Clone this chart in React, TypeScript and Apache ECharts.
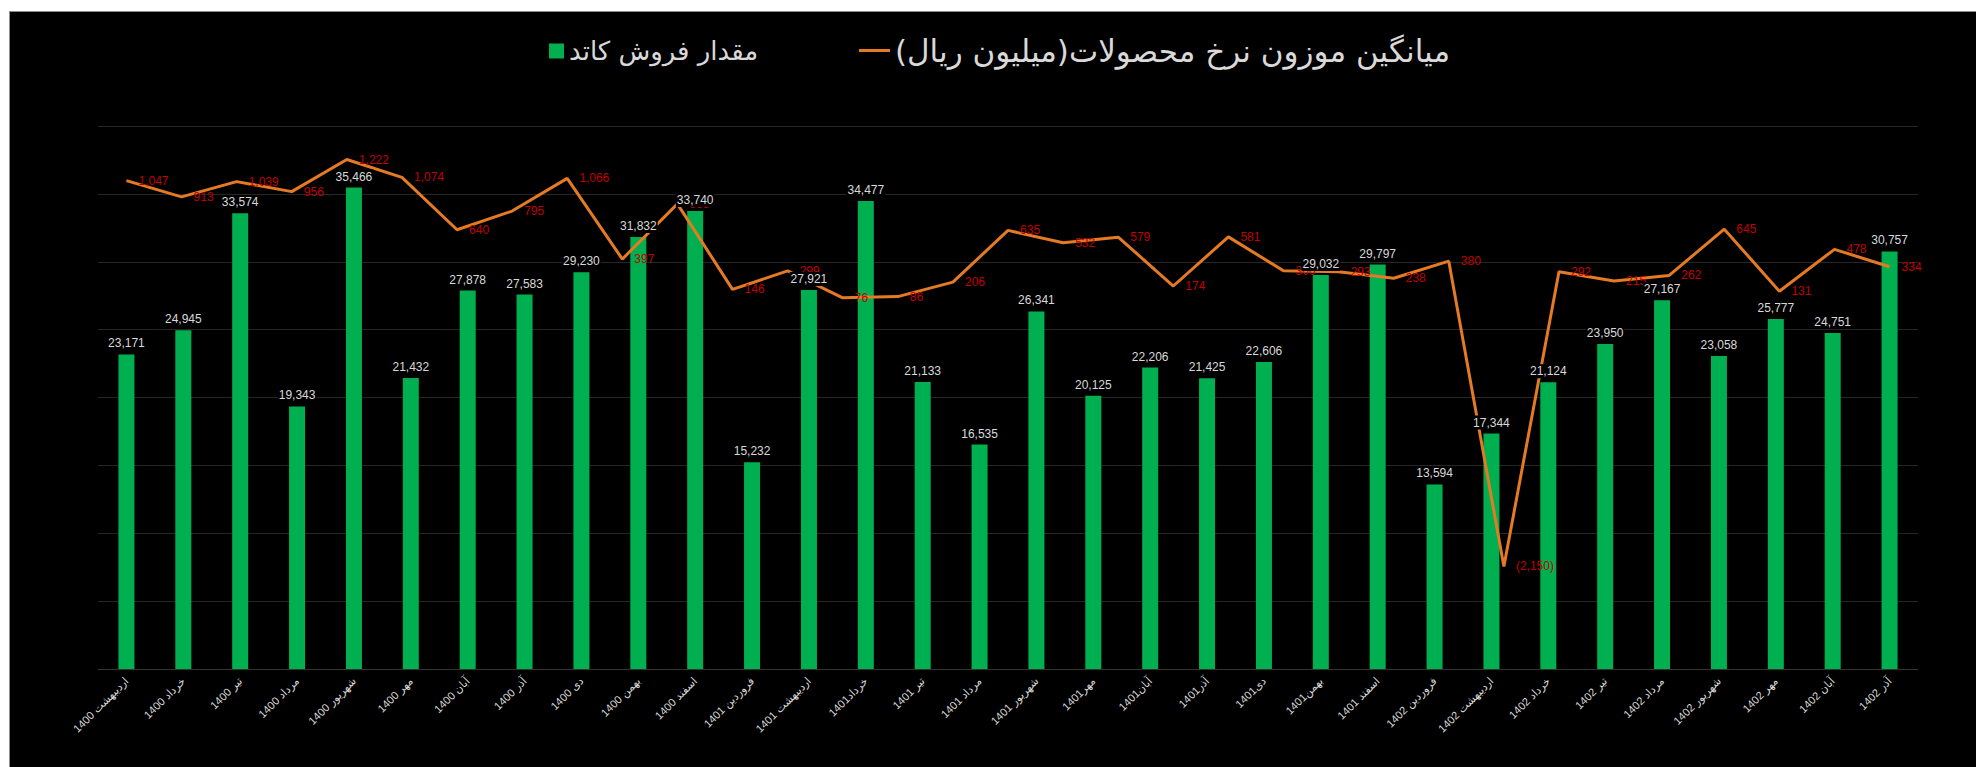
import React, { useEffect, useRef } from "react";
import * as echarts from "echarts";

const categories = [
  "اردیبهشت 1400", "خرداد 1400", "تیر 1400", "مرداد 1400", "شهریور 1400", "مهر 1400",
  "آبان 1400", "آذر 1400", "دی 1400", "بهمن 1400", "اسفند 1400", "فروردین 1401",
  "اردیبهشت 1401", "خرداد1401", "تیر 1401", "مرداد 1401", "شهریور 1401", "مهر1401",
  "آبان1401", "آذر1401", "دی1401", "بهمن1401", "اسفند 1401", "فروردین 1402",
  "اردیبهشت 1402", "خرداد 1402", "تیر 1402", "مرداد 1402", "شهریور 1402", "مهر 1402",
  "آبان 1402", "آذر 1402",
];

const salesValues = [
  23171, 24945, 33574, 19343, 35466, 21432, 27878, 27583, 29230, 31832, 33740, 15232,
  27921, 34477, 21133, 16535, 26341, 20125, 22206, 21425, 22606, 29032, 29797, 13594,
  17344, 21124, 23950, 27167, 23058, 25777, 24751, 30757,
];

const priceValues = [
  1047, 913, 1039, 956, 1222, 1074, 640, 795, 1066, 397, 855, 146, 299, 76, 86, 206,
  635, 532, 579, 174, 581, 300, 293, 238, 380, -2150, 292, 215, 262, 645, 131, 478, 334,
];

const barName = "مقدار فروش کاتد";
const lineName = "میانگین موزون نرخ محصولات(میلیون ریال)";

const fmt = (v: number) =>
  v < 0 ? "(" + Math.abs(v).toLocaleString("en-US") + ")" : v.toLocaleString("en-US");

export default function App() {
  const ref = useRef<HTMLDivElement>(null);
  useEffect(() => {
    if (!ref.current) return;
    const chart = echarts.init(ref.current, null, { renderer: "svg" });
    const n = priceValues.length - 1;
    const pad = (n / (categories.length - 1)) * 0.5;
    const orange = "#e57a24";
    const option = {
      animation: false,
      backgroundColor: "#ffffff",
      textStyle: { fontFamily: "'Liberation Sans', 'DejaVu Sans', sans-serif" },
      graphic: [
        {
          type: "rect",
          z: -100,
          silent: true,
          shape: { x: 9.5, y: 11.5, width: 1980, height: 770 },
          style: { fill: "#000000", stroke: "#8c8c8c", lineWidth: 1 },
        },
      ],
      legend: [
        {
          data: [{ name: barName, icon: "rect", itemStyle: { color: "#00b050" } }],
          left: 544,
          top: 33,
          itemWidth: 15,
          itemHeight: 15,
          itemGap: 0,
          textStyle: { color: "#d9d9d9", fontSize: 26, fontFamily: "'DejaVu Sans', sans-serif" },
        },
        {
          data: [{ name: lineName, icon: "rect", itemStyle: { color: orange } }],
          left: 854,
          top: 30,
          itemWidth: 31,
          itemHeight: 3,
          textStyle: { color: "#d9d9d9", fontSize: 31, fontFamily: "'DejaVu Sans', sans-serif" },
        },
      ],
      grid: { left: 98, right: 58, top: 126, bottom: 98, containLabel: false },
      xAxis: [
        {
          type: "category",
          data: categories,
          axisLine: { lineStyle: { color: "#333333", width: 1 } },
          axisTick: { show: false },
          axisLabel: {
            interval: 0,
            rotate: 45,
            color: "#d9d9d9",
            fontSize: 11,
            margin: 10,
          },
        },
        {
          type: "value",
          min: -pad,
          max: n + pad,
          show: false,
          splitLine: { show: false },
        },
      ],
      yAxis: [
        {
          type: "value",
          min: 0,
          max: 40000,
          interval: 5000,
          axisLabel: { show: false },
          axisLine: { show: false },
          axisTick: { show: false },
          splitLine: { lineStyle: { color: "#262626", width: 1 } },
        },
        {
          type: "value",
          min: -3000,
          max: 1500,
          show: false,
          splitLine: { show: false },
        },
      ],
      series: [
        {
          name: barName,
          type: "bar",
          data: salesValues,
          barWidth: 16,
          z: 2,
          itemStyle: { color: "#00b050" },
        },
        {
          name: lineName,
          type: "line",
          xAxisIndex: 1,
          yAxisIndex: 1,
          z: 3,
          data: priceValues.map((v, i) => [i, v]),
          symbol: "circle",
          symbolSize: 0.1,
          showSymbol: true,
          showAllSymbol: true,
          lineStyle: { color: orange, width: 3 },
          itemStyle: { color: orange },
          labelLayout: { hideOverlap: false },
          label: {
            show: true,
            position: "right",
            distance: 12,
            offset: [0, 3],
            color: "#c00000",
            fontSize: 12,
            formatter: (p: any) => fmt(p.value[1]),
          },
        },
        {
          name: "labels",
          type: "bar",
          data: salesValues,
          barWidth: 16,
          barGap: "-100%",
          z: 5,
          silent: true,
          itemStyle: { color: "rgba(0,0,0,0)" },
          label: {
            show: true,
            position: "top",
            distance: 4,
            color: "#d9d9d9",
            fontSize: 12,
            backgroundColor: "#000000",
            padding: [1, 1],
            formatter: (p: any) => fmt(p.value),
          },
        },
      ],
    };
    chart.setOption(option as any);
    return () => chart.dispose();
  }, []);
  return (
    <div
      ref={ref}
      style={{ position: "fixed", left: 0, top: 0, width: 1976, height: 767 }}
    />
  );
}
